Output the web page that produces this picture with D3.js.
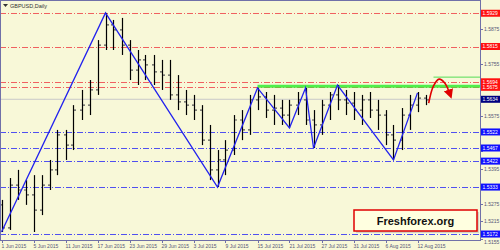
<!DOCTYPE html>
<html><head><meta charset="utf-8">
<script src="https://cdn.jsdelivr.net/npm/d3@7/dist/d3.min.js"></script>
<style>body{margin:0;background:#fff}svg{display:block}</style>
</head><body>
<svg id="c" width="500" height="250"></svg>
<script>
// ---- data ----
const dateLabels = ["1 Jun 2015","5 Jun 2015","11 Jun 2015","17 Jun 2015","23 Jun 2015","29 Jun 2015","3 Jul 2015","9 Jul 2015","15 Jul 2015","21 Jul 2015","27 Jul 2015","31 Jul 2015","6 Aug 2015","12 Aug 2015"];
const dateLabelIdx = [0,4,8,12,16,20,24,28,32,36,40,44,48,52];
const opens  = [1.5272,1.5193,1.5340,1.5323,1.5306,1.5254,1.5340,1.5392,1.5512,1.5477,1.5597,1.5614,1.5666,1.5820,1.5889,1.5872,1.5820,1.5734,1.5769,1.5752,1.5728,1.5717,1.5649,1.5625,1.5614,1.5597,1.5494,1.5392,1.5426,1.5460,1.5563,1.5529,1.5632,1.5642,1.5597,1.5604,1.5580,1.5614,1.5632,1.5563,1.5546,1.5614,1.5649,1.5632,1.5621,1.5597,1.5632,1.5597,1.5580,1.5512,1.5494,1.5580,1.5614,1.5638];
const highs  = [1.5289,1.5364,1.5392,1.5357,1.5374,1.5374,1.5426,1.5529,1.5529,1.5614,1.5666,1.5700,1.5837,1.5930,1.5906,1.5913,1.5837,1.5803,1.5786,1.5786,1.5769,1.5769,1.5717,1.5666,1.5649,1.5614,1.5546,1.5460,1.5494,1.5580,1.5597,1.5649,1.5673,1.5659,1.5649,1.5632,1.5632,1.5659,1.5673,1.5597,1.5632,1.5659,1.5683,1.5666,1.5659,1.5649,1.5659,1.5632,1.5597,1.5546,1.5604,1.5649,1.5659,1.5649];
const lows   = [1.5179,1.5186,1.5289,1.5272,1.5179,1.5237,1.5323,1.5374,1.5426,1.5460,1.5563,1.5580,1.5649,1.5803,1.5803,1.5786,1.5700,1.5683,1.5700,1.5683,1.5666,1.5632,1.5597,1.5580,1.5563,1.5477,1.5357,1.5333,1.5374,1.5443,1.5494,1.5512,1.5597,1.5570,1.5546,1.5546,1.5536,1.5580,1.5546,1.5467,1.5512,1.5563,1.5597,1.5580,1.5563,1.5546,1.5570,1.5529,1.5477,1.5426,1.5460,1.5529,1.5590,1.5614];
const closes = [1.5193,1.5340,1.5323,1.5306,1.5254,1.5340,1.5392,1.5512,1.5477,1.5597,1.5614,1.5666,1.5820,1.5889,1.5872,1.5820,1.5734,1.5769,1.5752,1.5728,1.5717,1.5649,1.5625,1.5614,1.5597,1.5494,1.5392,1.5426,1.5460,1.5563,1.5529,1.5632,1.5642,1.5597,1.5604,1.5580,1.5614,1.5632,1.5563,1.5546,1.5614,1.5649,1.5632,1.5621,1.5597,1.5632,1.5597,1.5580,1.5512,1.5494,1.5580,1.5614,1.5638,1.5632];
const zigzagIdx   = [0,13,27,32,36,38,39,42,49,52];
const zigzagPrice = [1.5179,1.5930,1.5333,1.5673,1.5536,1.5673,1.5467,1.5683,1.5426,1.5656];
const priceTicks = [1.5935,1.5875,1.5815,1.5755,1.5695,1.5635,1.5575,1.5515,1.5455,1.5395,1.5335,1.5275,1.5215,1.5155];
const redLevels  = [1.5929,1.5815,1.5694,1.5675];
const blueLevels = [1.5522,1.5467,1.5422,1.5333,1.5172];
const currentPrice = 1.5634;
const greenLevel = 1.5679, greenStart = 32;
const greenLevel2 = 1.5710, greenStart2 = 54;
const arrowIdx   = [53.4,54.0,54.7,55.4,56.1];
const arrowPrice = [1.5621,1.5680,1.5703,1.5690,1.5648];

// ---- drawing ----
const svg = d3.select("#c");
const W = 500, H = 250, plotR = 480, plotB = 240;
const x = d3.scaleLinear().domain([0, 59.5]).range([1.5, 477.5]);
const y = d3.scaleLinear().domain([1.5155, 1.5875]).range([239, 29]);
const font = "'Liberation Sans', Arial, sans-serif";

svg.append("rect").attr("width", W).attr("height", H).attr("fill", "#f8f8d8");
svg.append("defs").html('<clipPath id="pc"><rect x="0" y="0" width="480" height="240"/></clipPath><marker id="ah" viewBox="0 0 10 10" refX="6" refY="5" markerWidth="6" markerHeight="6" orient="auto"><path d="M0,0L10,5L0,10z" fill="#e00000"/></marker>');

const plot = svg.append("g").attr("clip-path", "url(#pc)");

// current price line
plot.append("line").attr("x1", 0).attr("x2", plotR).attr("y1", y(currentPrice)).attr("y2", y(currentPrice))
  .attr("stroke", "#c8c8c8").attr("stroke-width", 1);

// level lines
plot.selectAll(".rl").data(redLevels).join("line")
  .attr("x1", 0).attr("x2", plotR).attr("y1", d => Math.round(y(d)) + 0.5).attr("y2", d => Math.round(y(d)) + 0.5)
  .attr("stroke", "#f06060").attr("stroke-dasharray", "6,2,1,2").attr("stroke-width", 1);
plot.selectAll(".bl").data(blueLevels).join("line")
  .attr("x1", 0).attr("x2", plotR).attr("y1", d => Math.round(y(d)) + 0.5).attr("y2", d => Math.round(y(d)) + 0.5)
  .attr("stroke", "#5050f0").attr("stroke-dasharray", "6,2,1,2").attr("stroke-width", 1);

// green lines
plot.append("line").attr("x1", x(greenStart)).attr("x2", plotR).attr("y1", y(greenLevel)).attr("y2", y(greenLevel))
  .attr("stroke", "#33ee33").attr("stroke-width", 3).attr("opacity", 0.85);
plot.append("line").attr("x1", x(greenStart2)).attr("x2", plotR).attr("y1", y(greenLevel2)).attr("y2", y(greenLevel2))
  .attr("stroke", "#55dd55").attr("stroke-width", 1);

// OHLC bars
const idx = d3.range(opens.length);
const bars = plot.append("g").attr("stroke", "#000").attr("stroke-width", 1.2);
bars.selectAll(".hl").data(idx).join("line")
  .attr("x1", i => Math.round(x(i)) + 0.5).attr("x2", i => Math.round(x(i)) + 0.5)
  .attr("y1", i => y(highs[i])).attr("y2", i => y(lows[i]));
bars.selectAll(".o").data(idx).join("line")
  .attr("x1", i => Math.round(x(i)) - 2).attr("x2", i => Math.round(x(i)))
  .attr("y1", i => y(opens[i])).attr("y2", i => y(opens[i])).attr("stroke", "#555");
bars.selectAll(".c").data(idx).join("line")
  .attr("x1", i => Math.round(x(i)) + 1).attr("x2", i => Math.round(x(i)) + 3)
  .attr("y1", i => y(closes[i])).attr("y2", i => y(closes[i])).attr("stroke", "#555");

// zigzag
plot.append("path").datum(d3.range(zigzagIdx.length))
  .attr("d", d3.line().x(i => x(zigzagIdx[i])).y(i => y(zigzagPrice[i])))
  .attr("fill", "none").attr("stroke", "#2222ee").attr("stroke-width", 1.3);

// red arrow
plot.append("path").datum(d3.range(arrowIdx.length))
  .attr("d", d3.line().curve(d3.curveCatmullRom).x(i => x(arrowIdx[i])).y(i => y(arrowPrice[i])))
  .attr("fill", "none").attr("stroke", "#e00000").attr("stroke-width", 1.6).attr("marker-end", "url(#ah)");

// frame
svg.append("rect").attr("x", 0.5).attr("y", 0.5).attr("width", plotR).attr("height", plotB)
  .attr("fill", "none").attr("stroke", "#7070a8");

// right axis
const tagVals = redLevels.concat(blueLevels, [currentPrice]);
const ra = svg.append("g").attr("font-family", font).attr("font-size", 5);
ra.selectAll(".tk").data(priceTicks).join("line")
  .attr("x1", plotR).attr("x2", plotR + 3).attr("y1", d => Math.round(y(d)) + 0.5).attr("y2", d => Math.round(y(d)) + 0.5)
  .attr("stroke", "#7070a8");
ra.selectAll(".tl").data(priceTicks.filter(t => tagVals.every(v => Math.abs(y(v) - y(t)) > 6.5) && y(t) < 238)).join("text")
  .attr("x", plotR + 4).attr("y", d => y(d) + 1.8).attr("fill", "#555577").text(d => d.toFixed(4));
ra.append("text").attr("x", plotR + 4).attr("y", y(1.5155) + 4.5).attr("fill", "#555577").text("1.5155");

function tag(vals, color) {
  const g = ra.append("g");
  g.selectAll("rect").data(vals).join("rect")
    .attr("x", plotR + 1).attr("y", d => y(d) - 3.5).attr("width", 19).attr("height", 7).attr("fill", color);
  g.selectAll("text").data(vals).join("text")
    .attr("x", plotR + 2.5).attr("y", d => y(d) + 1.8).attr("fill", "#fff").text(d => d.toFixed(4));
}
tag(redLevels, "#ff1010");
tag(blueLevels, "#1010ff");
tag([currentPrice], "#000080");

// bottom axis
const ba = svg.append("g").attr("font-family", font).attr("font-size", 5);
ba.selectAll("line").data(dateLabelIdx).join("line")
  .attr("x1", d => Math.round(x(d)) + 0.5).attr("x2", d => Math.round(x(d)) + 0.5).attr("y1", plotB).attr("y2", plotB + 3)
  .attr("stroke", "#7070a8");
ba.selectAll("text").data(dateLabelIdx).join("text")
  .attr("x", d => x(d)).attr("y", 247.5).attr("fill", "#555577").text((d, i) => dateLabels[i]);

// title
svg.append("path").attr("d", "M3,4L8,4L5.5,7z").attr("fill", "#333");
svg.append("text").attr("x", 10).attr("y", 7.5).attr("font-family", font).attr("font-size", 5.5).attr("fill", "#333")
  .text("GBPUSD,Daily");

// logo
const lg = svg.append("g");
lg.append("rect").attr("x", 356).attr("y", 212).attr("width", 123).attr("height", 21).attr("fill", "#bbb").attr("opacity", 0.6);
lg.append("rect").attr("x", 354).attr("y", 210).attr("width", 123).attr("height", 21).attr("fill", "#ffffe0")
  .attr("stroke", "#e00000").attr("stroke-width", 1.5);
lg.append("text").attr("x", 415.5).attr("y", 224.5).attr("text-anchor", "middle").attr("font-family", font)
  .attr("font-weight", "bold").attr("font-size", 11).attr("fill", "#111").text("Freshforex.org");
</script>
</body></html>
